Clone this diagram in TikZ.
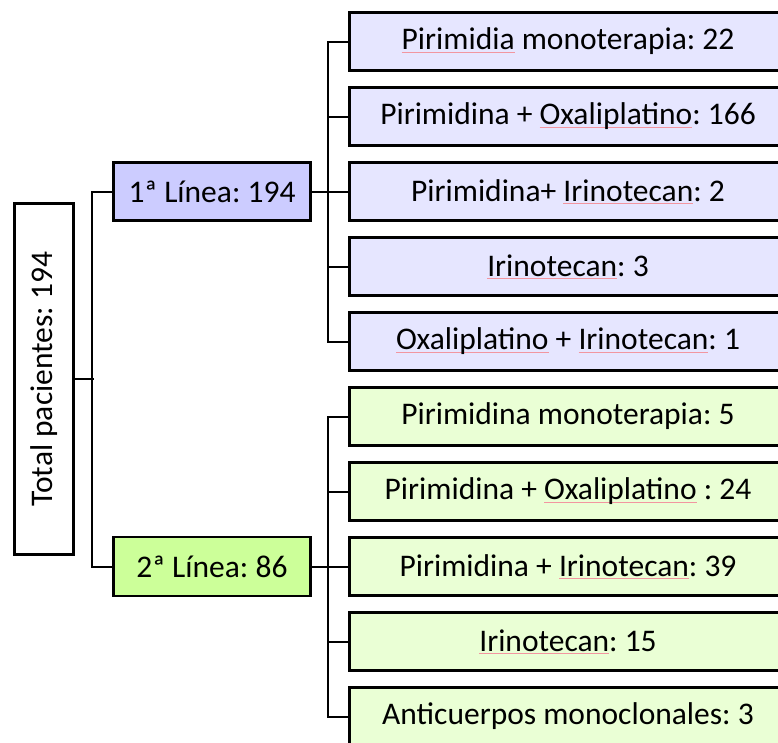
\documentclass[tikz,border=0pt]{standalone}
\usepackage{fontspec}
\setmainfont{Carlito}
\frenchspacing
\definecolor{lone}{RGB}{204,204,255}
\definecolor{subone}{RGB}{230,230,255}
\definecolor{ltwo}{RGB}{204,255,153}
\definecolor{subtwo}{RGB}{234,255,213}
\definecolor{spell}{RGB}{242,150,160}
\newsavebox\splbox
\newcommand\spl[1]{\sbox\splbox{#1}\rlap{\color{spell}\rule[-2.5pt]{\wd\splbox}{0.6pt}}\usebox\splbox}
\tikzset{
  box/.style={draw=black, line width=2.5pt, inner sep=0pt, font=\fontsize{31.5}{38}\selectfont, text=black},
  lvl/.style={box, minimum width=197pt, minimum height=58pt},
  leaf/.style={box, minimum width=437pt, minimum height=58pt},
  conn/.style={draw=black, line width=2pt}
}
\begin{document}
\begin{tikzpicture}[x=1pt,y=-1pt]
\useasboundingbox (0,0) rectangle (778,742);
\clip (0,0) rectangle (778,742);
\node[box, rotate=90, minimum width=351pt, minimum height=59pt] (total) at (44,379) {Total pacientes: 194};
\node[lvl, fill=lone] (l1) at (212,191.5) {1ª Línea: 194};
\node[lvl, fill=ltwo, minimum height=59pt] (l2) at (212,566.5) {2ª Línea: 86};
\node[leaf, fill=subone] (a1) at (568,41.5) {\spl{Pirimidia} monoterapia: 22};
\node[leaf, fill=subone] (a2) at (568,116.5) {Pirimidina + \spl{Oxaliplatino}: 166};
\node[leaf, fill=subone] (a3) at (568,191.5) {Pirimidina+ \spl{Irinotecan}: 2};
\node[leaf, fill=subone] (a4) at (568,266.5) {\spl{Irinotecan}: 3};
\node[leaf, fill=subone] (a5) at (568,341.5) {\spl{Oxaliplatino} + \spl{Irinotecan}: 1};
\node[leaf, fill=subtwo] (b1) at (568,416.5) {Pirimidina monoterapia: 5};
\node[leaf, fill=subtwo] (b2) at (568,491.5) {Pirimidina + \spl{Oxaliplatino} : 24};
\node[leaf, fill=subtwo] (b3) at (568,566.5) {Pirimidina + \spl{Irinotecan}: 39};
\node[leaf, fill=subtwo] (b4) at (568,641.5) {\spl{Irinotecan}: 15};
\node[leaf, fill=subtwo] (b5) at (568,716.5) {Anticuerpos monoclonales: 3};
% left tree
\draw[conn] (total.south) -- ++(19,0) coordinate (jl);
\draw[conn] (l1.west) -- ++(-20,0) |- (l2.west);
% first-line tree
\draw[conn] (l1.east) -- ++(18,0);
\draw[conn] (a1.west) -- ++(-20,0) |- (a5.west);
\foreach \n in {a2,a3,a4} \draw[conn] (\n.west) -- ++(-20,0);
% second-line tree
\draw[conn] (l2.east) -- ++(18,0);
\draw[conn] (b1.west) -- ++(-20,0) |- (b5.west);
\foreach \n in {b2,b3,b4} \draw[conn] (\n.west) -- ++(-20,0);
\end{tikzpicture}
\end{document}
